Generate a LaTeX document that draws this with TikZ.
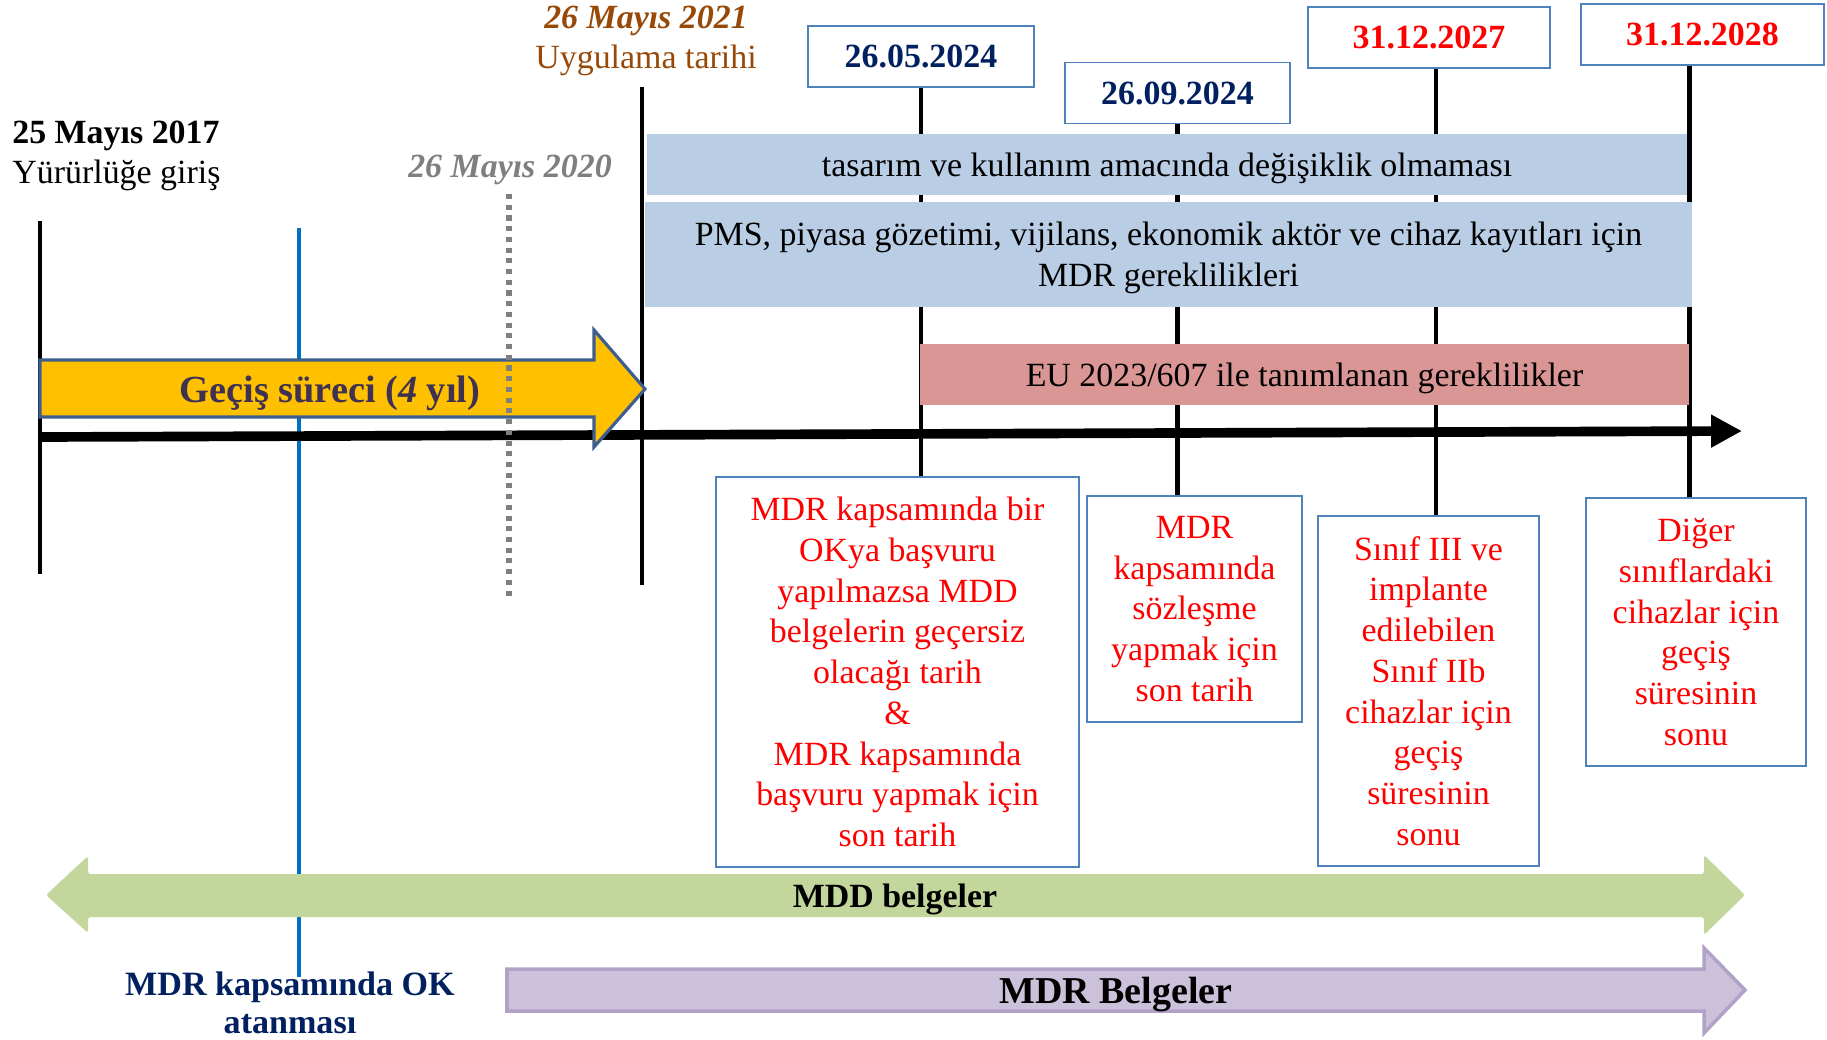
\documentclass[tikz,border=0pt]{standalone}
\usepackage{fontspec}
\setmainfont{Liberation Serif}
\usepackage{xcolor}
\usetikzlibrary{arrows.meta,backgrounds}
\definecolor{kutumavi}{HTML}{4F81BD}
\definecolor{bantmavi}{HTML}{B9CDE5}
\definecolor{pembe}{HTML}{D99694}
\definecolor{sari}{HTML}{FFC000}
\definecolor{sarikenar}{HTML}{3D5E8E}
\definecolor{yesil}{HTML}{C3D69B}
\definecolor{mor}{HTML}{CCC1DA}
\definecolor{morkenar}{HTML}{B3A2C7}
\definecolor{lacivert}{HTML}{002060}
\definecolor{kahve}{HTML}{984807}
\definecolor{gri}{HTML}{7F7F7F}
\definecolor{cizgimavi}{HTML}{0070C0}
\definecolor{gecisyazi}{HTML}{3F3151}

\begin{document}
\begin{tikzpicture}[x=0.02cm,y=-0.02cm,
  yazi/.style={font=\fontsize{19.3}{23.2}\selectfont,inner sep=0pt},
  datum/.style={yazi,draw=kutumavi,line width=1pt,fill=white,font=\fontsize{19.3}{23.2}\selectfont\bfseries,minimum height=1.22cm},
  kutu/.style={yazi,draw=kutumavi,line width=1pt,fill=white,align=center,text=red},
  bant/.style={yazi,fill=bantmavi,align=center,text depth=0pt},
  cizgi/.style={line width=2.5pt}]
  \useasboundingbox (0,0) rectangle (1827,1039);

  % ust etiketler
  \node[yazi,anchor=base west] (y17) at (12,143) {\bfseries 25 Mayıs 2017};
  \node[yazi,anchor=base west] (g17) at (12,183) {Yürürlüğe giriş};
  \node[yazi,anchor=base,text=gri] (t20) at (510,177) {\bfseries\itshape 26 Mayıs 2020};
  \node[yazi,anchor=base,text=kahve] (t21) at (646,28) {\bfseries\itshape 26 Mayıs 2021};
  \node[yazi,anchor=base,text=kahve] (u21) at (646,68) {Uygulama tarihi};

  % tarih kutulari
  \node[datum,text=lacivert,minimum width=4.52cm] (d1) at (921,56.5) {26.05.2024};
  \node[datum,text=lacivert,minimum width=4.5cm] (d2) at (1177.5,93) {26.09.2024};
  \node[datum,text=red,minimum width=4.84cm] (d3) at (1429,37.5) {31.12.2027};
  \node[datum,text=red,minimum width=4.86cm] (d4) at (1702.5,34.5) {31.12.2028};

  % bantlar
  \node[bant,minimum width=20.8cm,minimum height=1.22cm] (b1) at (1167,164.5)
    {tasarım ve kullanım amacında değişiklik olmaması};
  \node[bant,minimum width=20.94cm,minimum height=2.1cm] (b2) at (1168.5,254.5)
    {PMS, piyasa gözetimi, vijilans, ekonomik aktör ve cihaz kayıtları için\\MDR gereklilikleri};
  \node[bant,fill=pembe,minimum width=15.38cm,minimum height=1.22cm] (b3) at (1304.5,374.5)
    {EU 2023/607 ile tanımlanan gereklilikler};

  % kirmizi kutular
  \node[kutu,minimum width=7.26cm,minimum height=7.8cm] (r1) at (897.5,672)
    {MDR kapsamında bir\\OKya başvuru\\yapılmazsa MDD\\belgelerin geçersiz\\olacağı tarih\\\&\\MDR kapsamında\\başvuru yapmak için\\son tarih};
  \node[kutu,minimum width=4.3cm,minimum height=4.52cm] (r2) at (1194.5,609)
    {MDR\\kapsamında\\sözleşme\\yapmak için\\son tarih};
  \node[kutu,minimum width=4.42cm,minimum height=7cm] (r3) at (1428.5,691)
    {Sınıf III ve\\implante\\edilebilen\\Sınıf IIb\\cihazlar için\\geçiş\\süresinin\\sonu};
  \node[kutu,minimum width=4.4cm,minimum height=5.36cm] (r4) at (1696,632)
    {Diğer\\sınıflardaki\\cihazlar için\\geçiş\\süresinin\\sonu};

  \node[yazi,font=\fontsize{19.4}{21.6}\selectfont\bfseries,text=lacivert,align=center,anchor=north] (ok) at (290,971.5)
    {MDR kapsamında OK\\atanması};

  \coordinate (g17u) at (40,221);
  \coordinate (g17a) at (40,574);
  \coordinate (g21u) at (642,87);
  \coordinate (g21a) at (642,585);
  \coordinate (g20u) at (509,194);
  \coordinate (g20a) at (509,597);
  \coordinate (oku) at (299,228);
  \coordinate (ek0) at (41,437);
  \coordinate (ek1) at (1742,431);

  \begin{pgfonlayer}{background}
    \path[cizgi]
      (g17u) edge (g17a)
      (g21u) edge (g21a)
      (d1.south) edge (d1.south |- r1.north)
      (d2.south) edge (d2.south |- r2.north)
      ([xshift=4pt]d3.south) edge ([xshift=4pt]d3.south |- r3.north)
      ([xshift=-7.5pt]d4.south) edge ([xshift=-7.5pt]d4.south |- r4.north);
    \draw[line width=2.2pt,cizgimavi] (oku) -- ([yshift=-3pt]oku |- ok.north);
    \draw[line width=5.5pt,-{Triangle[length=17.6pt,width=17.6pt]}] (ek0) -- (ek1);
  \end{pgfonlayer}

  % gecis sureci
  \draw[fill=sari,draw=sarikenar,line width=1.8pt,line join=miter]
    (40,360) -- (594,360) -- (594,330) -- (645,389) -- (594,447) -- (594,417) -- (40,417) -- cycle;
  \node[yazi,font=\fontsize{21.8}{26}\selectfont\bfseries,text=gecisyazi,anchor=base] (gecis) at (330,402)
    {Geçiş süreci (\textit{4} yıl)};
  \draw[gri,line width=2.9pt,dash pattern=on 2.9pt off 3.2pt] (g20u) -- (g20a);

  % belgeler
  \fill[yesil,rounded corners=1.5pt]
    (46,895) -- (88,856) -- (88,874) -- (1704,874) -- (1704,855) -- (1745,895)
    -- (1704,935) -- (1704,917) -- (88,917) -- (88,933) -- cycle;
  \node[yazi,font=\fontsize{19.3}{23}\selectfont\bfseries,anchor=base] (mdd) at (895,907) {MDD belgeler};
  \draw[fill=mor,draw=morkenar,line width=2pt]
    (507,969) -- (1704,969) -- (1704,948) -- (1745,990) -- (1704,1033) -- (1704,1011) -- (507,1011) -- cycle;
  \node[yazi,font=\fontsize{21.6}{26}\selectfont\bfseries,anchor=base] (mdr) at (1116,1003) {MDR Belgeler};
\end{tikzpicture}
\end{document}
